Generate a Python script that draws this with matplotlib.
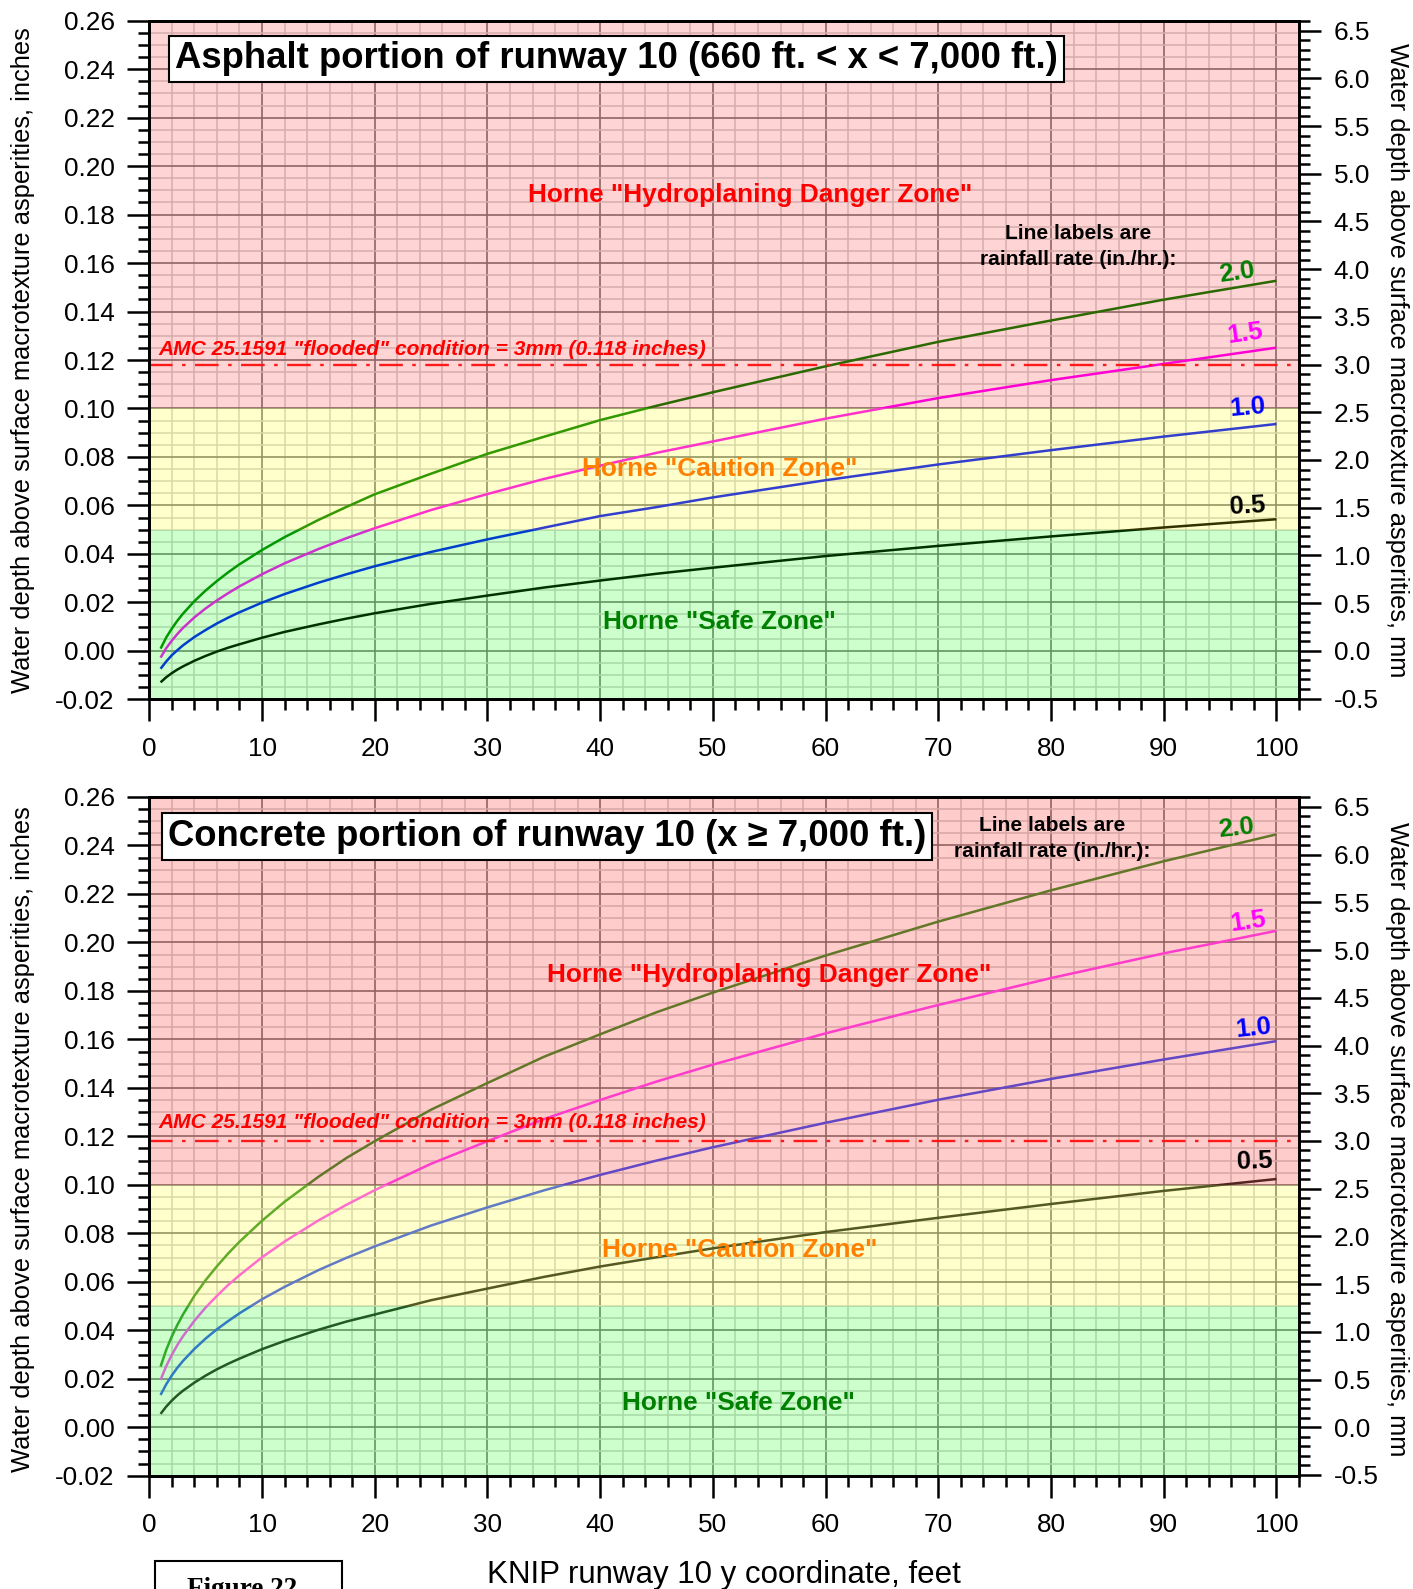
import matplotlib
matplotlib.use("Agg")
import matplotlib.pyplot as plt
from matplotlib.ticker import MultipleLocator, FormatStrFormatter
from matplotlib.patches import Rectangle

plt.rcParams['font.family'] = ['Liberation Sans', 'DejaVu Sans']
plt.rcParams['axes.unicode_minus'] = False

# ---------------------------------------------------------------------------
# Data: water depth (inches) vs. runway y coordinate (feet) for four rainfall
# rates (in./hr.).
# ---------------------------------------------------------------------------
y_coord = [1, 1.5, 2, 2.5, 3, 4, 5, 6, 7, 8, 10, 12, 15, 17.5, 20, 25, 30, 35, 40, 45,
           50, 60, 70, 80, 90, 100]
rain_rates = ['2.0', '1.5', '1.0', '0.5']

asphalt_r20 = [0.0009, 0.0055, 0.0092, 0.0125, 0.0154, 0.0205, 0.0249, 0.0288, 0.0324,
               0.0357, 0.0416, 0.0469, 0.0540, 0.0594, 0.0646, 0.0731, 0.0813, 0.0883,
               0.0952, 0.1011, 0.1067, 0.1174, 0.1275, 0.1363, 0.1449, 0.1527]
asphalt_r15 = [-0.0028, 0.0011, 0.0042, 0.0070, 0.0095, 0.0138, 0.0175, 0.0208, 0.0238,
               0.0266, 0.0316, 0.0361, 0.0420, 0.0465, 0.0506, 0.0581, 0.0647, 0.0709,
               0.0764, 0.0817, 0.0864, 0.0958, 0.1043, 0.1117, 0.1184, 0.1251]
asphalt_r10 = [-0.0074, -0.0044, -0.0018, 0.0003, 0.0023, 0.0057, 0.0086, 0.0113, 0.0137,
               0.0159, 0.0199, 0.0234, 0.0281, 0.0316, 0.0349, 0.0408, 0.0460, 0.0508,
               0.0556, 0.0593, 0.0633, 0.0704, 0.0769, 0.0828, 0.0884, 0.0936]
asphalt_r05 = [-0.0130, -0.0109, -0.0092, -0.0077, -0.0064, -0.0041, -0.0021, -0.0003, 0.0013,
               0.0027, 0.0054, 0.0078, 0.0109, 0.0133, 0.0155, 0.0194, 0.0228, 0.0261,
               0.0290, 0.0318, 0.0343, 0.0391, 0.0433, 0.0472, 0.0509, 0.0543]

concrete_r20 = [0.0250, 0.0319, 0.0375, 0.0423, 0.0466, 0.0542, 0.0607, 0.0664, 0.0717,
                0.0765, 0.0852, 0.0930, 0.1033, 0.1111, 0.1180, 0.1310, 0.1420, 0.1528,
                0.1621, 0.1712, 0.1793, 0.1946, 0.2086, 0.2215, 0.2335, 0.2446]
concrete_r15 = [0.0195, 0.0252, 0.0299, 0.0340, 0.0376, 0.0439, 0.0494, 0.0542, 0.0587,
                0.0627, 0.0701, 0.0766, 0.0853, 0.0918, 0.0978, 0.1087, 0.1180, 0.1271,
                0.1350, 0.1426, 0.1496, 0.1625, 0.1742, 0.1853, 0.1955, 0.2048]
concrete_r10 = [0.0133, 0.0177, 0.0214, 0.0246, 0.0274, 0.0323, 0.0366, 0.0404, 0.0438,
                0.0470, 0.0528, 0.0579, 0.0648, 0.0699, 0.0746, 0.0832, 0.0907, 0.0977,
                0.1041, 0.1100, 0.1155, 0.1256, 0.1351, 0.1437, 0.1517, 0.1593]
concrete_r05 = [0.0055, 0.0085, 0.0110, 0.0132, 0.0151, 0.0184, 0.0213, 0.0239, 0.0262,
                0.0283, 0.0322, 0.0356, 0.0402, 0.0436, 0.0465, 0.0524, 0.0572, 0.0620,
                0.0663, 0.0701, 0.0738, 0.0805, 0.0864, 0.0921, 0.0975, 0.1024]

flooded_depth_in = 0.118      # 3 mm
safe_limit_in = 0.05
caution_limit_in = 0.10
y_min_in, y_max_in = -0.02, 0.26
MM_PER_INCH = 25.4

W, H = 1413, 1589


def fx(px):
    return px / W


def fy(py):
    return 1 - py / H


fig = plt.figure(figsize=(W / 100, H / 100), dpi=100)
fig.patch.set_facecolor('white')

label_color = ['#008000', '#ff00ff', '#0000ff', '#000000']
TICK_FS = 18.8


def draw_panel(rect, series, line_colors, title, title_xy, red_alpha,
               label_pos, label_rot, zone_pos, amc_y, note_pos):
    ax = fig.add_axes(rect)
    ax.set_facecolor('white')
    ax.set_xlim(0, 102)
    ax.set_ylim(y_min_in, y_max_in)
    ax.set_axisbelow(True)

    ax.xaxis.set_major_locator(MultipleLocator(10))
    ax.xaxis.set_minor_locator(MultipleLocator(2))
    ax.yaxis.set_major_locator(MultipleLocator(0.02))
    ax.yaxis.set_minor_locator(MultipleLocator(0.005))
    ax.yaxis.set_major_formatter(FormatStrFormatter('%.2f'))
    ax.set_xticks([t for t in range(0, 101, 10)])

    ax.grid(True, which='major', color='#7a7a7a', lw=1.2)
    ax.grid(True, which='minor', color='#cfcfcf', lw=1.1)

    ax.tick_params(which='major', direction='out', length=16, width=1.8,
                   labelsize=TICK_FS, pad=9, top=False, right=False)
    ax.tick_params(which='minor', direction='out', length=8, width=1.8,
                   top=False, right=False)
    ax.tick_params(axis='x', which='major', pad=11)
    for s in ax.spines.values():
        s.set_linewidth(2)
        s.set_color('black')

    # curves
    for vals, c in zip(series, line_colors):
        ax.plot(y_coord, vals, color=c, lw=1.8, zorder=2, solid_capstyle='butt',
                solid_joinstyle='round')

    # translucent hazard zones laid over grid and curves
    ax.axhspan(y_min_in, safe_limit_in, color='#00ff00', alpha=0.2, lw=0, zorder=2.2)
    ax.axhspan(safe_limit_in, caution_limit_in, color='#ffff00', alpha=0.2, lw=0, zorder=2.2)
    ax.axhspan(caution_limit_in, y_max_in, color='#ff0000', alpha=red_alpha, lw=0, zorder=2.2)

    # flooded threshold
    ln, = ax.plot([0, 102], [flooded_depth_in, flooded_depth_in], color='#ff1a1a',
                  lw=1.7, zorder=3)
    ln.set_dashes([10, 4, 1.5, 4])
    ax.text(0.77, amc_y, 'AMC 25.1591 "flooded" condition = 3mm (0.118 inches)',
            color='#ff0000', fontsize=15.1, fontweight='bold', fontstyle='italic',
            ha='left', va='baseline', zorder=4)

    # zone names
    (dx, dy), (cx, cy), (sx, sy) = zone_pos
    ax.text(dx, dy, 'Horne "Hydroplaning Danger Zone"', color='#ff0000', fontsize=18.9,
            fontweight='bold', ha='center', va='baseline', zorder=4)
    ax.text(cx, cy, 'Horne "Caution Zone"', color='#ff8000', fontsize=18.9,
            fontweight='bold', ha='center', va='baseline', zorder=4)
    ax.text(sx, sy, 'Horne "Safe Zone"', color='#008000', fontsize=18.9,
            fontweight='bold', ha='center', va='baseline', zorder=4)

    # note about line labels
    nx, ny1, ny2 = note_pos
    ax.text(nx, ny1, 'Line labels are', fontsize=15.1, fontweight='bold',
            ha='center', va='baseline', zorder=4)
    ax.text(nx, ny2, 'rainfall rate (in./hr.):', fontsize=15.1, fontweight='bold',
            ha='center', va='baseline', zorder=4)

    # rainfall rate labels
    for lab, c, (lx, ly), rot in zip(rain_rates, label_color, label_pos, label_rot):
        ax.text(lx, ly, lab, color=c, fontsize=18.5, fontweight='bold',
                ha='center', va='center', rotation=rot, zorder=4)

    # panel title
    fig.text(fx(title_xy[0]), fy(title_xy[1]), title, fontsize=26.3, fontweight='bold',
             ha='left', va='baseline', zorder=5,
             bbox=dict(boxstyle='square,pad=0.16', facecolor='white',
                       edgecolor='black', lw=1.5))

    # secondary axis in millimetres
    ax2 = ax.twinx()
    ax2.set_ylim(y_min_in * MM_PER_INCH, y_max_in * MM_PER_INCH)
    ax2.yaxis.set_major_locator(MultipleLocator(0.5))
    ax2.yaxis.set_minor_locator(MultipleLocator(0.1))
    ax2.yaxis.set_major_formatter(FormatStrFormatter('%.1f'))
    ax2.tick_params(which='major', direction='out', length=16, width=1.8,
                    labelsize=TICK_FS, pad=9)
    ax2.tick_params(which='minor', direction='out', length=8, width=1.8)
    for s in ax2.spines.values():
        s.set_linewidth(2)
    return ax


ax_top = draw_panel(
    [fx(149.3), fy(699.3), (1299 - 149.3) / W, 678.6 / H],
    [asphalt_r20, asphalt_r15, asphalt_r10, asphalt_r05],
    ['#008000', '#ff00ff', '#0010ff', '#000000'],
    'Asphalt portion of runway 10 (660 ft. < x < 7,000 ft.)', (175, 68.5), 0.17,
    [(96.5, 0.1559), (97.25, 0.1311), (97.4, 0.1006), (97.4, 0.0597)],
    [8, 8, 5, 3],
    [(53.3, 0.1852), (50.6, 0.0721), (50.6, 0.0090)],
    0.1221,
    (82.4, 0.1698, 0.1592),
)

ax_bot = draw_panel(
    [fx(149.3), fy(1475.7), (1299 - 149.3) / W, 678.7 / H],
    [concrete_r20, concrete_r15, concrete_r10, concrete_r05],
    ['#3c9632', '#ff4bff', '#3c5af5', '#2a302a'],
    'Concrete portion of runway 10 (x \u2265 7,000 ft.)', (168, 846), 0.2,
    [(96.4, 0.2470), (97.5, 0.2088), (97.95, 0.1645), (98.05, 0.1098)],
    [6, 8, 6, 2],
    [(55.0, 0.1837), (52.4, 0.0702), (52.3, 0.0071)],
    0.1234,
    (80.1, 0.2461, 0.2354),
)

# axis titles
left_label = 'Water depth above surface macrotexture asperities, inches'
right_label = 'Water depth above surface macrotexture asperities, mm'
for cy in (360, 1139):
    fig.text(fx(23), fy(cy), left_label, rotation=90, fontsize=18.4,
             ha='center', va='center')
    fig.text(fx(1397), fy(cy), right_label, rotation=-90, fontsize=18.4,
             ha='center', va='center')

fig.text(fx(724), fy(1583), 'KNIP runway 10 y coordinate, feet', fontsize=22.5,
         ha='center', va='baseline')

# figure number box at the lower left
fig.add_artist(Rectangle((fx(155), -0.02), (342 - 155) / W, fy(1561) + 0.02,
                         transform=fig.transFigure, facecolor='white',
                         edgecolor='black', lw=1.5))
fig.text(fx(242), fy(1596), 'Figure 22', fontsize=19.5, fontweight='bold',
         family=['Liberation Serif', 'DejaVu Serif'], ha='center', va='baseline')

fig.savefig('out.png', dpi=100)
